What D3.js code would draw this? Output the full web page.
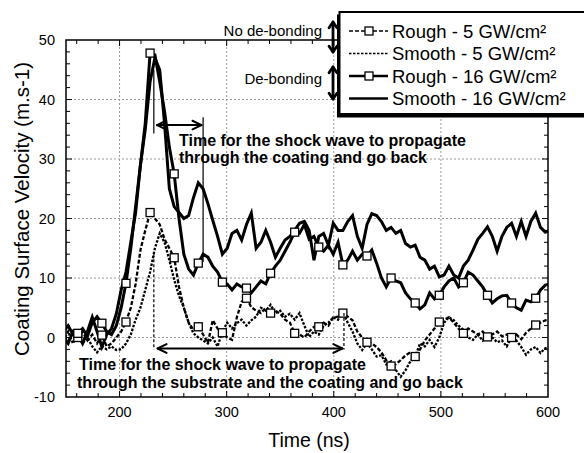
<!DOCTYPE html>
<html>
<head>
<meta charset="utf-8">
<script src="https://cdnjs.cloudflare.com/ajax/libs/d3/7.8.5/d3.min.js"></script>
<style>
  body { margin: 0; background: #fff; }
  svg { display: block; font-family: "Liberation Sans", Arial, sans-serif; }
</style>
</head>
<body>
<div id="chart"></div>
<script>
// sampling grid (ns), one value every 4.5 ns, markers every 5th sample
var times = d3.range(0, 102).map(function(i) { return 147.5 + 4.5 * i; });

var rough16 = [1.0, 2.0, 0.5, 0.7, 1.5, 0.2, 2.5, 3.5, 2.4, 1.0,
  0.5, 2.0, 5.0, 9.1, 15, 22, 29, 36, 47.8, 47.5,
  43, 38, 32, 27.5, 20, 14, 11.5, 10.5, 12.5, 14,
  13.5, 12, 11, 9.3, 9, 8, 9, 8.5, 8.3, 7.5,
  8.5, 9.5, 9, 10.8, 12, 13, 14.5, 16, 17.7, 17.5,
  19, 16.5, 17, 15.2, 14.5, 15.5, 14, 16, 12.2, 13,
  14.5, 13, 14, 13.7, 14.7, 12.5, 10, 8.5, 10, 9.5,
  9.2, 7.5, 6.5, 5.8, 4.8, 5.5, 7.5, 6.5, 7.1, 8.5,
  9.5, 10, 8.5, 9.2, 11, 10.5, 9.5, 8.5, 7.1, 5.8,
  6.5, 7, 7.1, 5.8, 5, 4.6, 6.3, 6, 6.6, 8,
  8.8, 9];

var smooth16 = [0, -1, 1, 0.5, -1, 1, 3.4, 1, -1.6, 0.5,
  1.5, 4, 8, 11, 16, 21, 29, 35, 43, 47,
  45, 36, 25, 22, 21, 20, 20.5, 23.5, 26, 25,
  22.5, 19.7, 17, 14, 15, 17.5, 18, 16.4, 19, 20.9,
  15, 16, 18, 16, 13.5, 15, 16.4, 17, 18, 19.2,
  19.5, 18, 13, 17, 17.5, 15.5, 19.2, 18, 18, 19.5,
  20.5, 17, 15, 19, 20.8, 20.5, 19.5, 18, 18.5, 17.5,
  18, 15.8, 15.2, 15.5, 13.5, 13, 11.5, 12, 10.2, 10.5,
  12, 10.5, 10, 12, 13, 14.7, 16.5, 17.5, 18.6, 17,
  14.5, 17, 18.5, 19.2, 17, 19.5, 17, 19.5, 20.9, 18.5,
  17.7, 18];

var rough5 = [0, -0.5, 0.5, 0, 1, -0.5, 0.5, -1, 0.4, -1.5,
  -1, 0, 1, 2.6, 5, 9, 14.7, 18, 21, 20,
  19, 16.5, 15, 13.4, 8.5, 5, 2.5, 1.3, 1.8, 0.5,
  -0.9, 2.9, 1.5, 0.8, 0, -0.4, 3.4, 6, 6.6, 5.1,
  4.5, 4.1, 5, 4.1, 4.5, 4, 3, 2.5, 0.7, 0.5,
  0, 1, 1.8, 1.8, 2.5, 2, 3.4, 3.5, 4.1, 3.5,
  2.9, 1, 0, -0.8, -1, -1.6, -2.5, -3.8, -4.8, -4.5,
  -3.8, -3, -2.5, -3.2, -2, -0.5, 0.5, 1.5, 2.6, 3,
  3.4, 2.5, 1.5, 0.7, 1.5, 1, 0.5, 1, 0.1, 0.5,
  1, 0.2, 0.5, 0, 0.5, -0.3, 0.8, 1.5, 2.1, 2.5,
  2.9, 3];

var smooth5 = [-0.5, 1, -1, 0.5, -1, 0, -1.5, -2.5, -1.5, -2,
  -1.5, -2.1, -2, -1, 0.5, 3, 5, 8, 11, 15,
  17.5, 16, 13, 9.7, 7, 5, 2.5, 0.7, 0, -0.5,
  -1, 0, -1.5, 1, 2.5, 1.5, 2.4, 3, 2, 2.9,
  3.5, 5, 4.5, 5.5, 4.1, 4.5, 3.5, 4, 3, 4.1,
  2, 0.1, 1, 0.5, 2, 2.5, 3.4, 3, 4.3, 2.5,
  1, -1, -2.1, -1, -2, -3.2, -3, -4.5, -4, -5.5,
  -6.6, -5.5, -4, -3.2, -1, -1.5, -0.4, -1.6, 0, 2.5,
  3.4, 2.9, 2, 1.3, 0, -0.4, 0.5, -0.5, 0.4, 0,
  -0.8, -0.5, -1.5, 0.1, -0.5, -1.6, -2.9, -2, -1.6, -2.6,
  -1.8, -1.5];

var seriesNames = ["Rough - 5 GW/cm\u00b2", "Smooth - 5 GW/cm\u00b2",
                   "Rough - 16 GW/cm\u00b2", "Smooth - 16 GW/cm\u00b2"];
var xTicks = [200, 300, 400, 500, 600];
var yTicks = [-10, 0, 10, 20, 30, 40, 50];

var width = 584, height = 453;
var margin = { left: 66, right: 36, top: 40, bottom: 56 };
var plotW = width - margin.left - margin.right;   // 482
var plotH = height - margin.top - margin.bottom;  // 357

var x = d3.scaleLinear().domain([150, 600]).range([margin.left, margin.left + plotW]);
var y = d3.scaleLinear().domain([-10, 50]).range([margin.top + plotH, margin.top]);

var svg = d3.select('#chart').append('svg')
    .attr('width', width)
    .attr('height', height);

svg.append('clipPath').attr('id', 'clip')
  .append('rect')
    .attr('x', margin.left).attr('y', margin.top)
    .attr('width', plotW).attr('height', plotH);

// dotted grid
var grid = svg.append('g').attr('stroke', '#9a9a9a').attr('stroke-width', 1)
    .attr('stroke-dasharray', '2,2');
[200, 300, 400, 500].forEach(function(t) {
  grid.append('line').attr('x1', x(t)).attr('x2', x(t))
      .attr('y1', y(-10)).attr('y2', y(50));
});
[0, 10, 20, 30, 40].forEach(function(v) {
  grid.append('line').attr('y1', y(v)).attr('y2', y(v))
      .attr('x1', x(150)).attr('x2', x(600));
});

var line = d3.line()
    .x(function(d) { return x(d[0]); })
    .y(function(d) { return y(d[1]); });

function pairs(vals) { return times.map(function(t, i) { return [t, vals[i]]; }); }

var styles = [
  { vals: rough5, dash: '4,2', w: 2.3, markers: true },
  { vals: smooth5, dash: '2.5,1.5', w: 2.3, markers: false },
  { vals: rough16, dash: null, w: 3, markers: true },
  { vals: smooth16, dash: null, w: 3, markers: false }
];

var plot = svg.append('g').attr('clip-path', 'url(#clip)');
[1, 0, 3, 2].forEach(function(k) {
  var s = styles[k];
  plot.append('path')
      .datum(pairs(s.vals))
      .attr('fill', 'none')
      .attr('stroke', '#000')
      .attr('stroke-width', s.w)
      .attr('stroke-linejoin', 'miter')
      .attr('stroke-dasharray', s.dash)
      .attr('d', line);
});
[0, 2].forEach(function(k) {
  var pts = pairs(styles[k].vals).filter(function(d, i) { return i % 5 === 3; });
  plot.selectAll('.m' + k).data(pts).enter().append('rect')
      .attr('x', function(d) { return x(d[0]) - 4; })
      .attr('y', function(d) { return y(d[1]) - 4; })
      .attr('width', 8).attr('height', 8)
      .attr('fill', '#fff').attr('stroke', '#000').attr('stroke-width', 1.3);
});

// frame + ticks
svg.append('rect')
    .attr('x', margin.left).attr('y', margin.top)
    .attr('width', plotW).attr('height', plotH)
    .attr('fill', 'none').attr('stroke', '#000').attr('stroke-width', 1.5);

var xMinor = d3.range(160, 600, 20);
var yMinor = d3.range(-8, 50, 2);
var ticks = svg.append('g').attr('stroke', '#000').attr('stroke-width', 1);
xMinor.forEach(function(t) {
  var L = (t % 100 === 0) ? 6 : 4;
  ticks.append('line').attr('x1', x(t)).attr('x2', x(t)).attr('y1', y(-10)).attr('y2', y(-10) - L);
  ticks.append('line').attr('x1', x(t)).attr('x2', x(t)).attr('y1', y(50)).attr('y2', y(50) + L);
});
yMinor.forEach(function(v) {
  var L = (v % 10 === 0) ? 6 : 4;
  ticks.append('line').attr('y1', y(v)).attr('y2', y(v)).attr('x1', x(150)).attr('x2', x(150) + L);
  ticks.append('line').attr('y1', y(v)).attr('y2', y(v)).attr('x1', x(600)).attr('x2', x(600) - L);
});

svg.append('g').selectAll('text').data(xTicks).enter().append('text')
    .attr('x', function(d) { return x(d); })
    .attr('y', 417)
    .attr('text-anchor', 'middle')
    .attr('font-size', 14.5)
    .text(function(d) { return d; });
svg.append('g').selectAll('text').data(yTicks).enter().append('text')
    .attr('x', 55)
    .attr('y', function(d) { return y(d) + 5; })
    .attr('text-anchor', 'end')
    .attr('font-size', 14.5)
    .text(function(d) { return d; });

svg.append('text').attr('x', 309).attr('y', 447)
    .attr('text-anchor', 'middle').attr('font-size', 19.5)
    .text('Time (ns)');
svg.append('text')
    .attr('transform', 'translate(29,209) rotate(-90)')
    .attr('text-anchor', 'middle').attr('font-size', 20.5)
    .text('Coating Surface Velocity (m.s-1)');

// annotations
function head(g, x0, y0, ang, len, spread, w) {
  [-spread, spread].forEach(function(s) {
    g.append('line').attr('x1', x0).attr('y1', y0)
        .attr('x2', x0 - len * Math.cos(ang + s))
        .attr('y2', y0 - len * Math.sin(ang + s))
        .attr('stroke', '#000').attr('stroke-width', w).attr('stroke-linecap', 'round');
  });
}
function dblArrow(x1, y1, x2, y2, len, spread, w) {
  var g = svg.append('g');
  g.append('line').attr('x1', x1).attr('y1', y1).attr('x2', x2).attr('y2', y2)
      .attr('stroke', '#000').attr('stroke-width', w);
  var a = Math.atan2(y2 - y1, x2 - x1);
  head(g, x2, y2, a, len, spread, w);
  head(g, x1, y1, a + Math.PI, len, spread, w);
}

var ann = svg.append('g').attr('stroke', '#000').attr('stroke-width', 1.2);
ann.append('line').attr('x1', x(232)).attr('x2', x(232)).attr('y1', y(45)).attr('y2', y(34.3));
ann.append('line').attr('x1', x(278)).attr('x2', x(278)).attr('y1', y(37)).attr('y2', y(12.7));
ann.append('line').attr('x1', x(232)).attr('x2', x(232)).attr('y1', y(14)).attr('y2', y(-2))
    .attr('stroke-dasharray', '3,2');
ann.append('line').attr('x1', x(409.5)).attr('x2', x(409.5)).attr('y1', y(4.1)).attr('y2', y(-2))
    .attr('stroke-dasharray', '3,2');
dblArrow(x(235), y(35.7), x(276.5), y(35.7), 10, 0.45, 2);
dblArrow(x(235.5), y(-1.85), x(408), y(-1.85), 10, 0.45, 2);

var annText = svg.append('g').attr('font-size', 16).attr('font-weight', 'bold');
annText.append('text').attr('x', 179).attr('y', 146).text('Time for the shock wave to propagate');
annText.append('text').attr('x', 179).attr('y', 163).text('through the coating and go back');
annText.append('text').attr('x', 79).attr('y', 370).text('Time for the shock wave to propagate');
annText.append('text').attr('x', 77).attr('y', 388).text('through the substrate and the coating and go back');

svg.append('text').attr('x', 322).attr('y', 36).attr('text-anchor', 'end')
    .attr('font-size', 15).text('No de-bonding');
svg.append('text').attr('x', 322).attr('y', 84).attr('text-anchor', 'end')
    .attr('font-size', 15).text('De-bonding');
dblArrow(333, 22, 333, 52, 7, 0.6, 2.8);
dblArrow(333, 67, 333, 99, 7, 0.6, 2.8);

// legend
var lg = svg.append('g');
lg.append('rect').attr('x', 337).attr('y', 14.5).attr('width', 260).attr('height', 103).attr('fill', '#000');
lg.append('rect').attr('x', 339.5).attr('y', 12).attr('width', 260).attr('height', 102)
    .attr('fill', '#fff').attr('stroke', '#000').attr('stroke-width', 2);
var legendItems = lg.selectAll('.item').data(seriesNames).enter().append('g')
    .attr('transform', function(d, i) { return 'translate(0,' + (31 + i * 22.5) + ')'; });
legendItems.append('line')
    .attr('x1', 349).attr('x2', 388).attr('y1', 0).attr('y2', 0)
    .attr('stroke', '#000')
    .attr('stroke-width', function(d, i) { return styles[i].w - 0.6; })
    .attr('stroke-dasharray', function(d, i) { return styles[i].dash; });
legendItems.filter(function(d, i) { return styles[i].markers; }).append('rect')
    .attr('x', 365).attr('y', -4).attr('width', 8).attr('height', 8)
    .attr('fill', '#fff').attr('stroke', '#000').attr('stroke-width', 1.3);
legendItems.append('text')
    .attr('x', 392).attr('y', 6.5)
    .attr('font-size', 18.5)
    .text(function(d) { return d; });
</script>
</body>
</html>
